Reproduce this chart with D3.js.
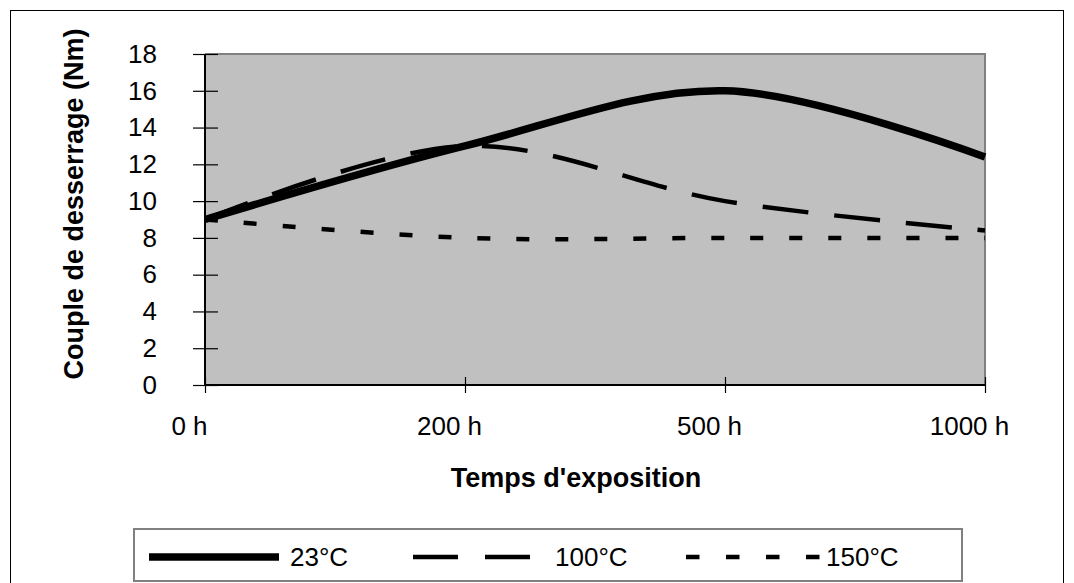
<!DOCTYPE html>
<html><head><meta charset="utf-8">
<script src="https://cdn.jsdelivr.net/npm/d3@7"></script>
<style>
html,body{margin:0;padding:0;background:#fff;}
svg{display:block;font-family:Arial,"Liberation Sans",sans-serif;}
</style></head>
<body>
<svg id="chart" width="1074" height="583"></svg>
<script>
const categories = ["0 h", "200 h", "500 h", "1000 h"];
const s23 = [9, 13, 16, 12.4];
const s100 = [9, 13, 10, 8.4];
const s150 = [9, 8, 8, 8];
const seriesNames = ["23°C", "100°C", "150°C"];
const yTicks = [0, 2, 4, 6, 8, 10, 12, 14, 16, 18];

const svg = d3.select("#chart");
const plot = {x0: 205, x1: 985, y0: 54, y1: 385};

svg.append("rect").attr("x", 10.5).attr("y", 10.5).attr("width", 1053).attr("height", 600)
  .attr("fill", "#fff").attr("stroke", "#000").attr("stroke-width", 1);

const x = d3.scalePoint().domain(categories).range([plot.x0, plot.x1]);
const y = d3.scaleLinear().domain([0, 18]).range([plot.y1, plot.y0]);

svg.append("rect").attr("x", plot.x0).attr("y", plot.y0)
  .attr("width", plot.x1 - plot.x0).attr("height", plot.y1 - plot.y0)
  .attr("fill", "#c0c0c0");
svg.append("path").attr("d", `M${plot.x0},${plot.y0}H${plot.x1}V${plot.y1}`)
  .attr("fill", "none").attr("stroke", "#808080").attr("stroke-width", 2);

const fs = 26;
const ff = "Arial, 'Liberation Sans', sans-serif";
// y axis
const yAxis = svg.append("g").attr("transform", `translate(${plot.x0},0)`)
  .call(d3.axisLeft(y).tickValues(yTicks).tickSize(0).tickPadding(48));
yAxis.select(".domain").remove();
yAxis.selectAll("text").attr("font-size", fs).attr("font-family", ff).attr("fill", "#000");
yAxis.selectAll(".tick").append("line").attr("x1", -12).attr("x2", 13).attr("stroke", "#000").attr("stroke-width", 1.2);

// x axis
const xAxis = svg.append("g").attr("transform", `translate(0,${plot.y1})`)
  .call(d3.axisBottom(x).tickSize(0).tickPadding(32));
xAxis.select(".domain").remove();
xAxis.selectAll("text").attr("font-size", fs).attr("font-family", ff).attr("fill", "#000").attr("dx", -16);
xAxis.selectAll(".tick").append("line").attr("y1", -8).attr("y2", 8).attr("stroke", "#000").attr("stroke-width", 1.2);

svg.append("line").attr("x1", plot.x0).attr("x2", plot.x0).attr("y1", plot.y0).attr("y2", plot.y1)
  .attr("stroke", "#000").attr("stroke-width", 2);
svg.append("line").attr("x1", plot.x0).attr("x2", plot.x1).attr("y1", plot.y1).attr("y2", plot.y1)
  .attr("stroke", "#000").attr("stroke-width", 2);

// lines
const line = d3.line().x((d, i) => x(categories[i])).y(d => y(d)).curve(d3.curveCardinal.tension(0));
const styles = [
  {data: s23, w: 7.5, dash: null},
  {data: s100, w: 4.5, dash: "46,26"},
  {data: s150, w: 4.5, dash: "13,26"}
];
styles.slice().reverse().forEach(s => {
  svg.append("path").attr("d", line(s.data)).attr("fill", "none")
    .attr("stroke", "#000").attr("stroke-width", s.w)
    .attr("stroke-dasharray", s.dash);
});

// titles
svg.append("text").attr("transform", "translate(83,204) rotate(-90)")
  .attr("text-anchor", "middle").attr("font-size", 27).attr("font-weight", "bold")
  .text("Couple de desserrage (Nm)");
svg.append("text").attr("x", 576).attr("y", 487)
  .attr("text-anchor", "middle").attr("font-size", 27).attr("font-weight", "bold")
  .text("Temps d'exposition");

// legend
const lg = svg.append("g");
lg.append("rect").attr("x", 134).attr("y", 529).attr("width", 828).attr("height", 52)
  .attr("fill", "#fff").attr("stroke", "#808080").attr("stroke-width", 2);
const legItems = [
  {name: seriesNames[0], x1: 149, x2: 279, tx: 290, w: 7.5, dash: null},
  {name: seriesNames[1], x1: 413, x2: 531, tx: 555, w: 4.5, dash: "45,27"},
  {name: seriesNames[2], x1: 686, x2: 820, tx: 826, w: 4.5, dash: "13.5,26.5"}
];
legItems.forEach(d => {
  lg.append("line").attr("x1", d.x1).attr("x2", d.x2).attr("y1", 557).attr("y2", 557)
    .attr("stroke", "#000").attr("stroke-width", d.w).attr("stroke-dasharray", d.dash);
  lg.append("text").attr("x", d.tx).attr("y", 566).attr("font-size", fs).attr("font-family", ff).text(d.name);
});
</script>
</body></html>
